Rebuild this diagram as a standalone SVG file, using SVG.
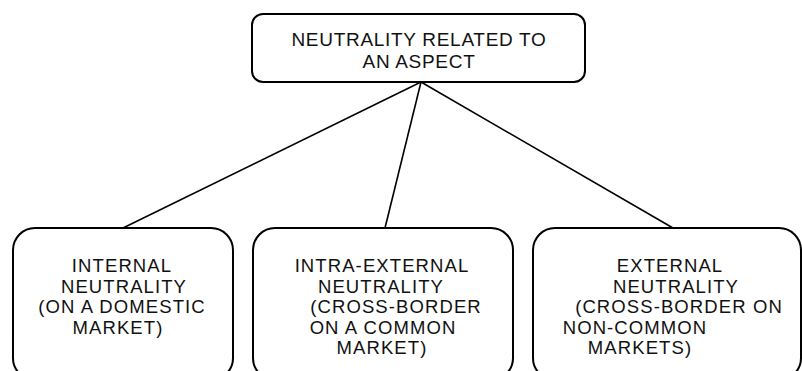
<svg xmlns="http://www.w3.org/2000/svg" width="802" height="371" viewBox="0 0 802 371">
<style>
.box{fill:#fff;stroke:#000;stroke-width:2}
.t{font-family:"Liberation Sans",Arial,sans-serif;font-size:18.5px;letter-spacing:1.1px;fill:#111;text-anchor:middle}
.h{font-size:19px;letter-spacing:0.7px}
.c{stroke:#000;stroke-width:1.6;fill:none}
</style>
<rect width="802" height="371" fill="#fff"/>
<g id="connectors">
<line class="c" x1="421" y1="82" x2="123" y2="228"/>
<line class="c" x1="421" y1="82" x2="385" y2="228"/>
<line class="c" x1="421" y1="82" x2="673" y2="228"/>
</g>
<g id="top">
<rect class="box" x="252" y="14" width="333" height="68" rx="11"/>
<text class="t h" x="419" y="46">NEUTRALITY RELATED TO</text>
<text class="t h" x="419" y="68">AN ASPECT</text>
</g>
<g id="internal">
<rect class="box" x="13" y="228" width="220" height="152" rx="22"/>
<text class="t" x="122" y="272">INTERNAL</text>
<text class="t" x="124" y="292.5">NEUTRALITY</text>
<text class="t" x="122" y="313">(ON A DOMESTIC</text>
<text class="t" x="118" y="333.5">MARKET)</text>
</g>
<g id="intra-external">
<rect class="box" x="253" y="228" width="260" height="152" rx="22"/>
<text class="t" x="382" y="272">INTRA-EXTERNAL</text>
<text class="t" x="381" y="292.5">NEUTRALITY</text>
<text class="t" x="396" y="313">(CROSS-BORDER</text>
<text class="t" x="383" y="333.5">ON A COMMON</text>
<text class="t" x="382" y="354">MARKET)</text>
</g>
<g id="external">
<rect class="box" x="533" y="228" width="268" height="152" rx="22"/>
<text class="t" x="670" y="272">EXTERNAL</text>
<text class="t" x="676" y="292.5">NEUTRALITY</text>
<text class="t" x="679" y="313">(CROSS-BORDER ON</text>
<text class="t" x="635" y="333.5">NON-COMMON</text>
<text class="t" x="640" y="354">MARKETS)</text>
</g>
</svg>
